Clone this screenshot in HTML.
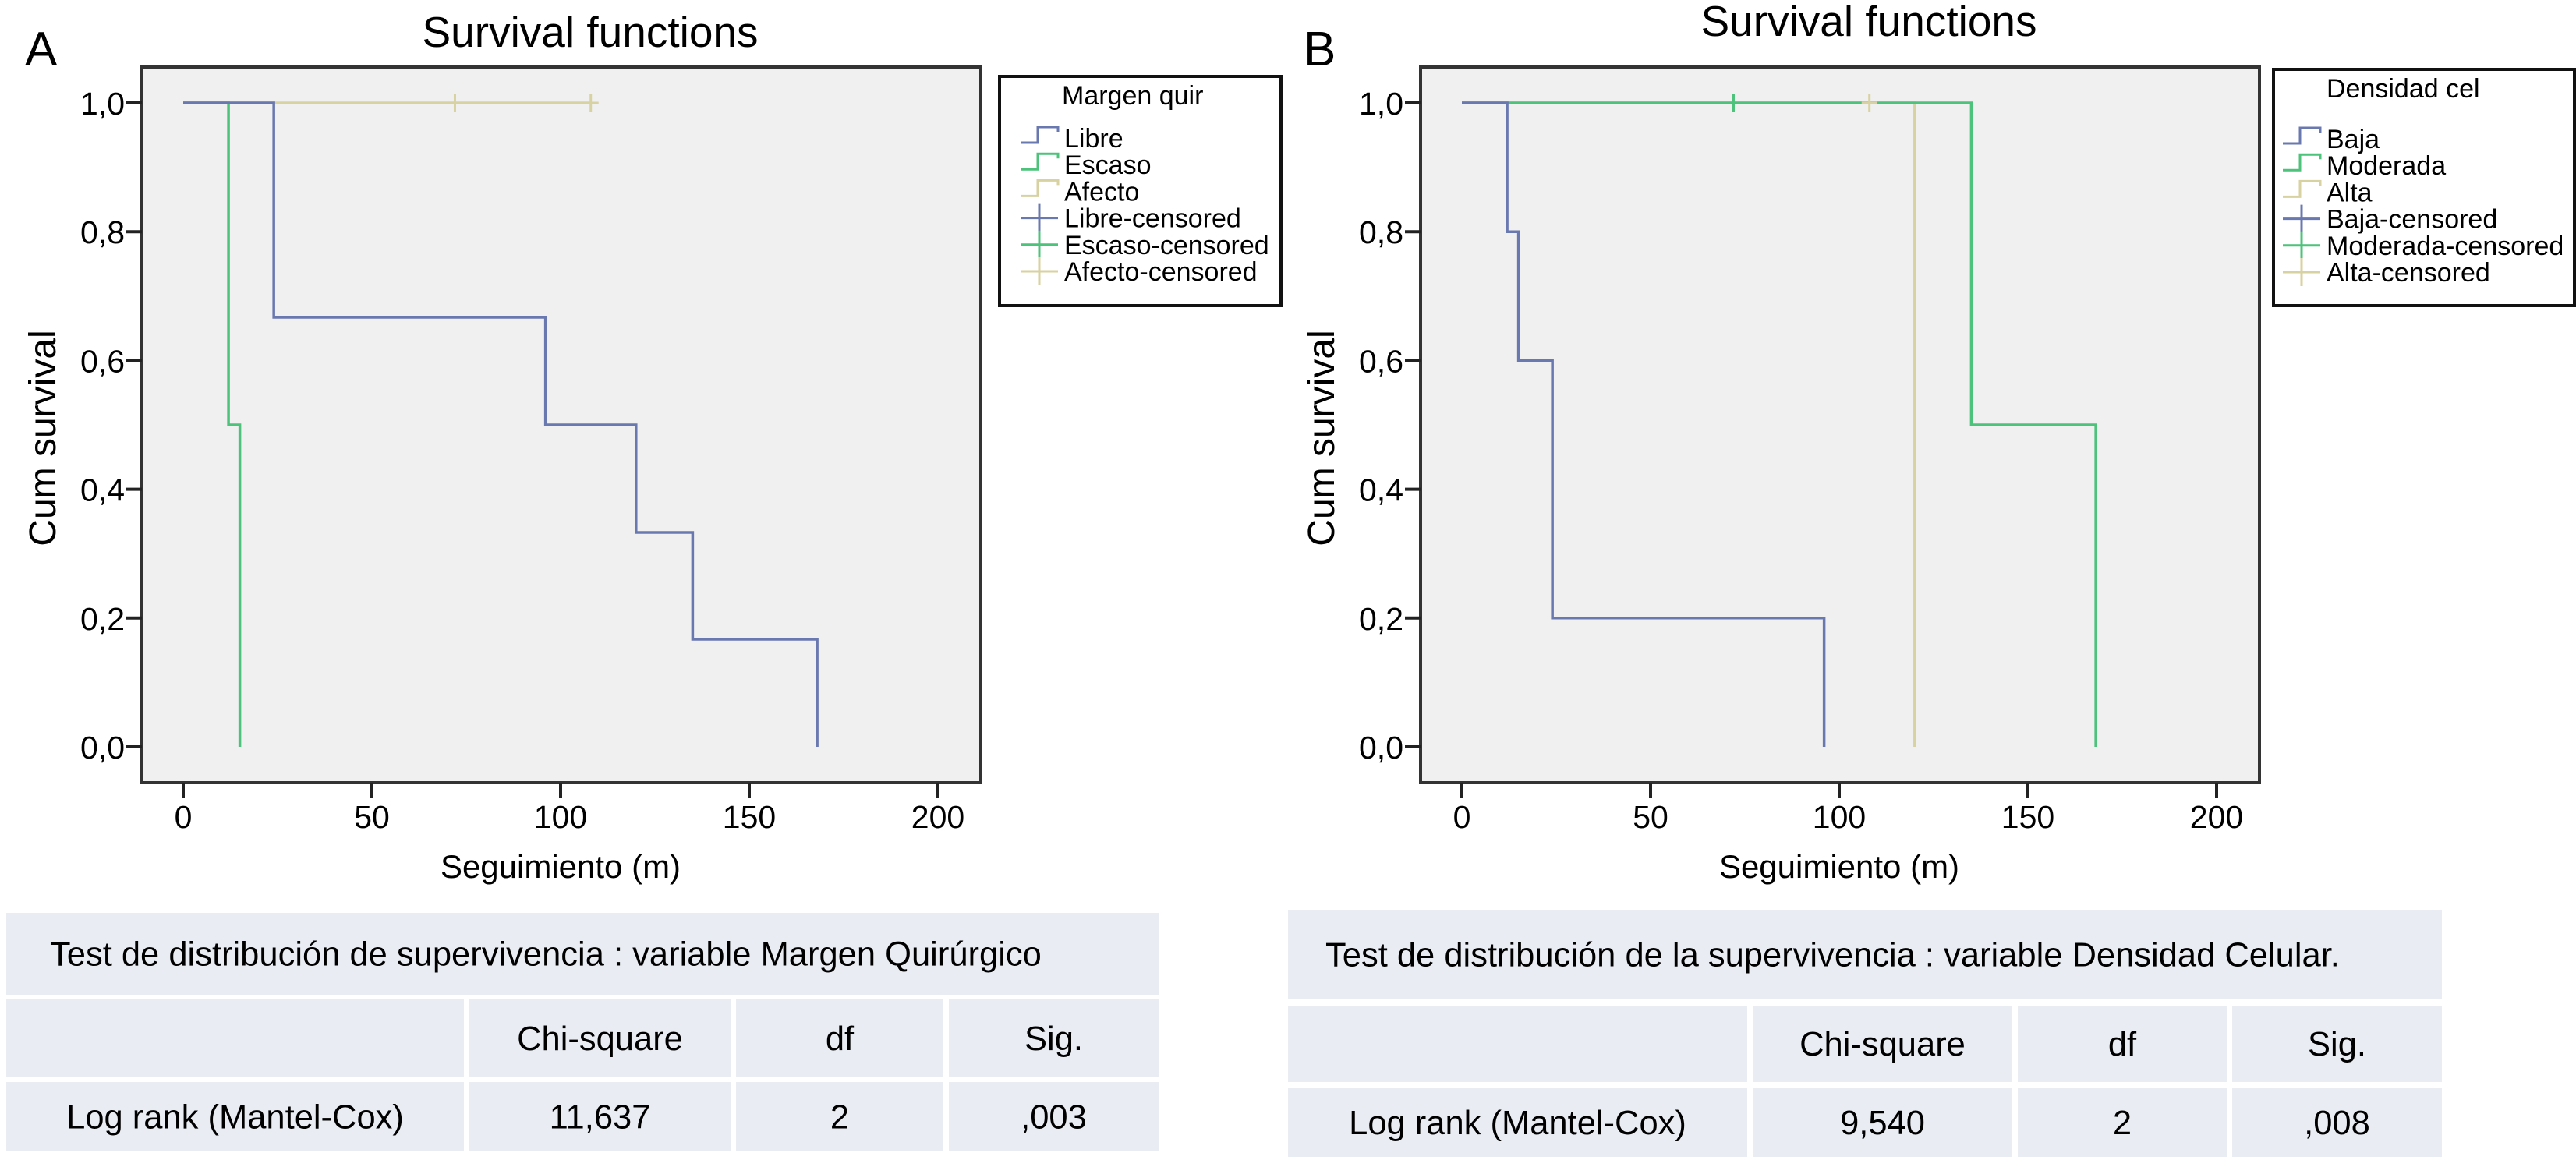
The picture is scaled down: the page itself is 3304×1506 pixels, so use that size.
<!DOCTYPE html>
<html><head><meta charset="utf-8"><style>
html,body{margin:0;padding:0;background:#fff;}
svg{display:block;font-family:"Liberation Sans",sans-serif;}
</style></head><body>
<svg id="chart" width="3304" height="1506" viewBox="0 0 3304 1506" xmlns="http://www.w3.org/2000/svg"></svg>
<script>
// ---- data ----
const xTicks = [0, 50, 100, 150, 200];
const yTicks = [0, 0.2, 0.4, 0.6, 0.8, 1.0];
const yTickLabels = ["0,0", "0,2", "0,4", "0,6", "0,8", "1,0"];
// Panel A series: step times and survival values
const libreT = [0, 24, 96, 120, 135, 168];
const libreS = [1, 0.667, 0.5, 0.333, 0.167, 0];
const escasoT = [0, 12, 15];
const escasoS = [1, 0.5, 0];
const afectoT = [0, 108];
const afectoS = [1, 1];
const afectoCensT = [72, 108];
const afectoCensS = [1, 1];
// Panel B series
const bajaT = [0, 12, 15, 24, 96];
const bajaS = [1, 0.8, 0.6, 0.2, 0];
const moderadaT = [0, 135, 168];
const moderadaS = [1, 0.5, 0];
const moderadaCensT = [72];
const moderadaCensS = [1];
const altaT = [0, 120];
const altaS = [1, 0];
const altaCensT = [108];
const altaCensS = [1];
const legendA = ["Libre", "Escaso", "Afecto", "Libre-censored", "Escaso-censored", "Afecto-censored"];
const legendB = ["Baja", "Moderada", "Alta", "Baja-censored", "Moderada-censored", "Alta-censored"];
const tableA = ["Test de distribución de supervivencia : variable Margen Quirúrgico", "Chi-square", "df", "Sig.", "Log rank (Mantel-Cox)", "11,637", "2", ",003"];
const tableB = ["Test de distribución de la supervivencia : variable Densidad Celular.", "Chi-square", "df", "Sig.", "Log rank (Mantel-Cox)", "9,540", "2", ",008"];

const BLUE = "#6a78b0", GREEN = "#4cc27a", TAN = "#d8d2a2";
const NS = "http://www.w3.org/2000/svg";
const svg = document.getElementById("chart");
function mk(tag, attrs, parent, text) {
  const e = document.createElementNS(NS, tag);
  for (const k in attrs) e.setAttribute(k, attrs[k]);
  if (text !== undefined) e.textContent = text;
  (parent || svg).appendChild(e);
  return e;
}

function panel(opt) {
  const g = mk("g", {});
  
  
  const ox = opt.ox;
  const fx0 = 182 + ox, fx1 = 1258 + ox, fy0 = 86, fy1 = 1004;
  const xs = v => 235 + ox + v * (968 / 200);
  const ys = v => 958 - v * (826 / 1);
  const bg = mk("rect", {x: fx0, y: fy0, width: fx1 - fx0, height: fy1 - fy0, fill: "#f0f0f0", stroke: "#333", "stroke-width": 4}, g);
  
  
  yTicks.forEach((t, i) => {
    const tk = mk("line", {x1: fx0 - 20, x2: fx0, y1: ys(t), y2: ys(t), stroke: "#222", "stroke-width": 4}, g);
    
    
    const lb = mk("text", {x: fx0 - 22, y: ys(t) + 15, "font-size": 41, "text-anchor": "end"}, g, yTickLabels[i]);
    
    
  });
  xTicks.forEach(t => {
    const tk = mk("line", {x1: xs(t), x2: xs(t), y1: fy1, y2: fy1 + 20, stroke: "#222", "stroke-width": 4}, g);
    
    
    const lb = mk("text", {x: xs(t), y: 1062, "font-size": 41, "text-anchor": "middle"}, g, String(t));
    
    
  });
  const xl = mk("text", {x: 719 + ox, y: 1126, "font-size": 42, "text-anchor": "middle"}, g, "Seguimiento (m)");
  
  
  const yl = mk("text", {x: 0, y: 0, "font-size": 48, "text-anchor": "middle", transform: `translate(${71 + ox},562) rotate(-90)`}, g, "Cum survival");
  
  
  const tt = mk("text", {x: 757 + ox, y: opt.titleY, "font-size": 55, "text-anchor": "middle"}, g, "Survival functions");
  
  
  const pl = mk("text", {x: 32 + ox, y: 84, "font-size": 62}, g, opt.letter);
  
  
  opt.series.slice().reverse().forEach(s => {
    let d = `M${xs(s.t[0])},${ys(s.s[0])}`;
    for (let i = 1; i < s.t.length; i++) {
      d += ` L${xs(s.t[i])},${ys(s.s[i - 1])} L${xs(s.t[i])},${ys(s.s[i])}`;
    }
    const p = mk("path", {d: d, fill: "none", stroke: s.c, "stroke-width": 3.5}, g);
    
    
  });
  opt.cens.forEach(c => {
    c.t.forEach((t, i) => {
      const m = mk("path", {d: `M${xs(t) - 10},${ys(c.s[i])} h20 M${xs(t)},${ys(c.s[i]) - 12} v24`, stroke: c.c, "stroke-width": 3}, g);
      
      
    });
  });
  const L = opt.legend;
  const lg = mk("g", {}, g);
  
  
  mk("rect", {x: L.x, y: L.y, width: L.w, height: L.h, fill: "#fff", stroke: "#111", "stroke-width": 4}, lg);
  const lt = mk("text", {x: L.tx, y: L.y + 36, "font-size": 34, "text-anchor": "start"}, lg, L.title);
  
  
  const cols = [BLUE, GREEN, TAN, BLUE, GREEN, TAN];
  L.items.forEach((name, i) => {
    const by = L.y0 + i * 34.2;
    const sx = L.tx2 - 56;
    let d;
    if (i < 3) d = `M${sx},${by - 6} h22 v-20 h26 v6`;
    else d = `M${sx},${by - 12} h48 M${sx + 24},${by - 30} v36`;
    const sym = mk("path", {d: d, fill: "none", stroke: cols[i], "stroke-width": 3}, lg);
    
    
    const tx = mk("text", {x: L.tx2, y: by, "font-size": 34}, lg, name);
    
    
  });
  const T = opt.table, tg = mk("g", {}, g);
  
  
  const TC = "#e9edf3";
  mk("rect", {x: T.x[0], y: T.r[0], width: T.x[4] - T.x[0], height: T.r[1] - T.r[0], fill: TC}, tg);
  const ttl = mk("text", {x: T.x[0] + T.tx, y: (T.r[0] + T.r[1]) / 2 + 15, "font-size": 43.5}, tg, T.d[0]);
  
  
  for (let r = 0; r < 2; r++) {
    for (let c = 0; c < 4; c++) {
      const x0 = T.x[c] + (c ? 7 : 0), x1 = T.x[c + 1];
      const y0 = T.r[2 + r * 2], y1 = T.r[3 + r * 2];
      mk("rect", {x: x0, y: y0, width: x1 - x0, height: y1 - y0, fill: TC}, tg);
      let content = r === 0 ? (c === 0 ? "" : T.d[c]) : T.d[4 + c];
      if (content) {
        const t = mk("text", {x: (x0 + x1) / 2, y: (y0 + y1) / 2 + 15, "font-size": 43.5, "text-anchor": "middle"}, tg, content);
        
        
      }
    }
  }
}

panel({
  name: "panel-a", ox: 0, letter: "A", titleY: 60,
  series: [
    {name: "libre-line", t: libreT, s: libreS, c: BLUE},
    {name: "escaso-line", t: escasoT, s: escasoS, c: GREEN},
    {name: "afecto-line", t: afectoT, s: afectoS, c: TAN}
  ],
  cens: [{name: "afecto-censored-mark", t: afectoCensT, s: afectoCensS, c: TAN}],
  legend: {x: 1282, y: 98, w: 361, h: 294, tx: 1362, tx2: 1365, y0: 189, title: "Margen quir", items: legendA},
  table: {x: [8, 595, 937, 1210, 1486], r: [1171, 1276, 1282, 1382, 1388, 1477], d: tableA, tx: 56}
});
panel({
  name: "panel-b", ox: 1640, letter: "B", titleY: 46,
  series: [
    {name: "baja-line", t: bajaT, s: bajaS, c: BLUE},
    {name: "moderada-line", t: moderadaT, s: moderadaS, c: GREEN},
    {name: "alta-line", t: altaT, s: altaS, c: TAN}
  ],
  cens: [
    {name: "moderada-censored-mark", t: moderadaCensT, s: moderadaCensS, c: GREEN},
    {name: "alta-censored-mark", t: altaCensT, s: altaCensS, c: TAN}
  ],
  legend: {x: 2916, y: 89, w: 386, h: 303, tx: 2984, tx2: 2984, y0: 190, title: "Densidad cel", items: legendB},
  table: {x: [1652, 2241, 2581, 2856, 3132], r: [1167, 1282, 1290, 1388, 1396, 1484], d: tableB, tx: 48}
});
</script>
</body></html>
